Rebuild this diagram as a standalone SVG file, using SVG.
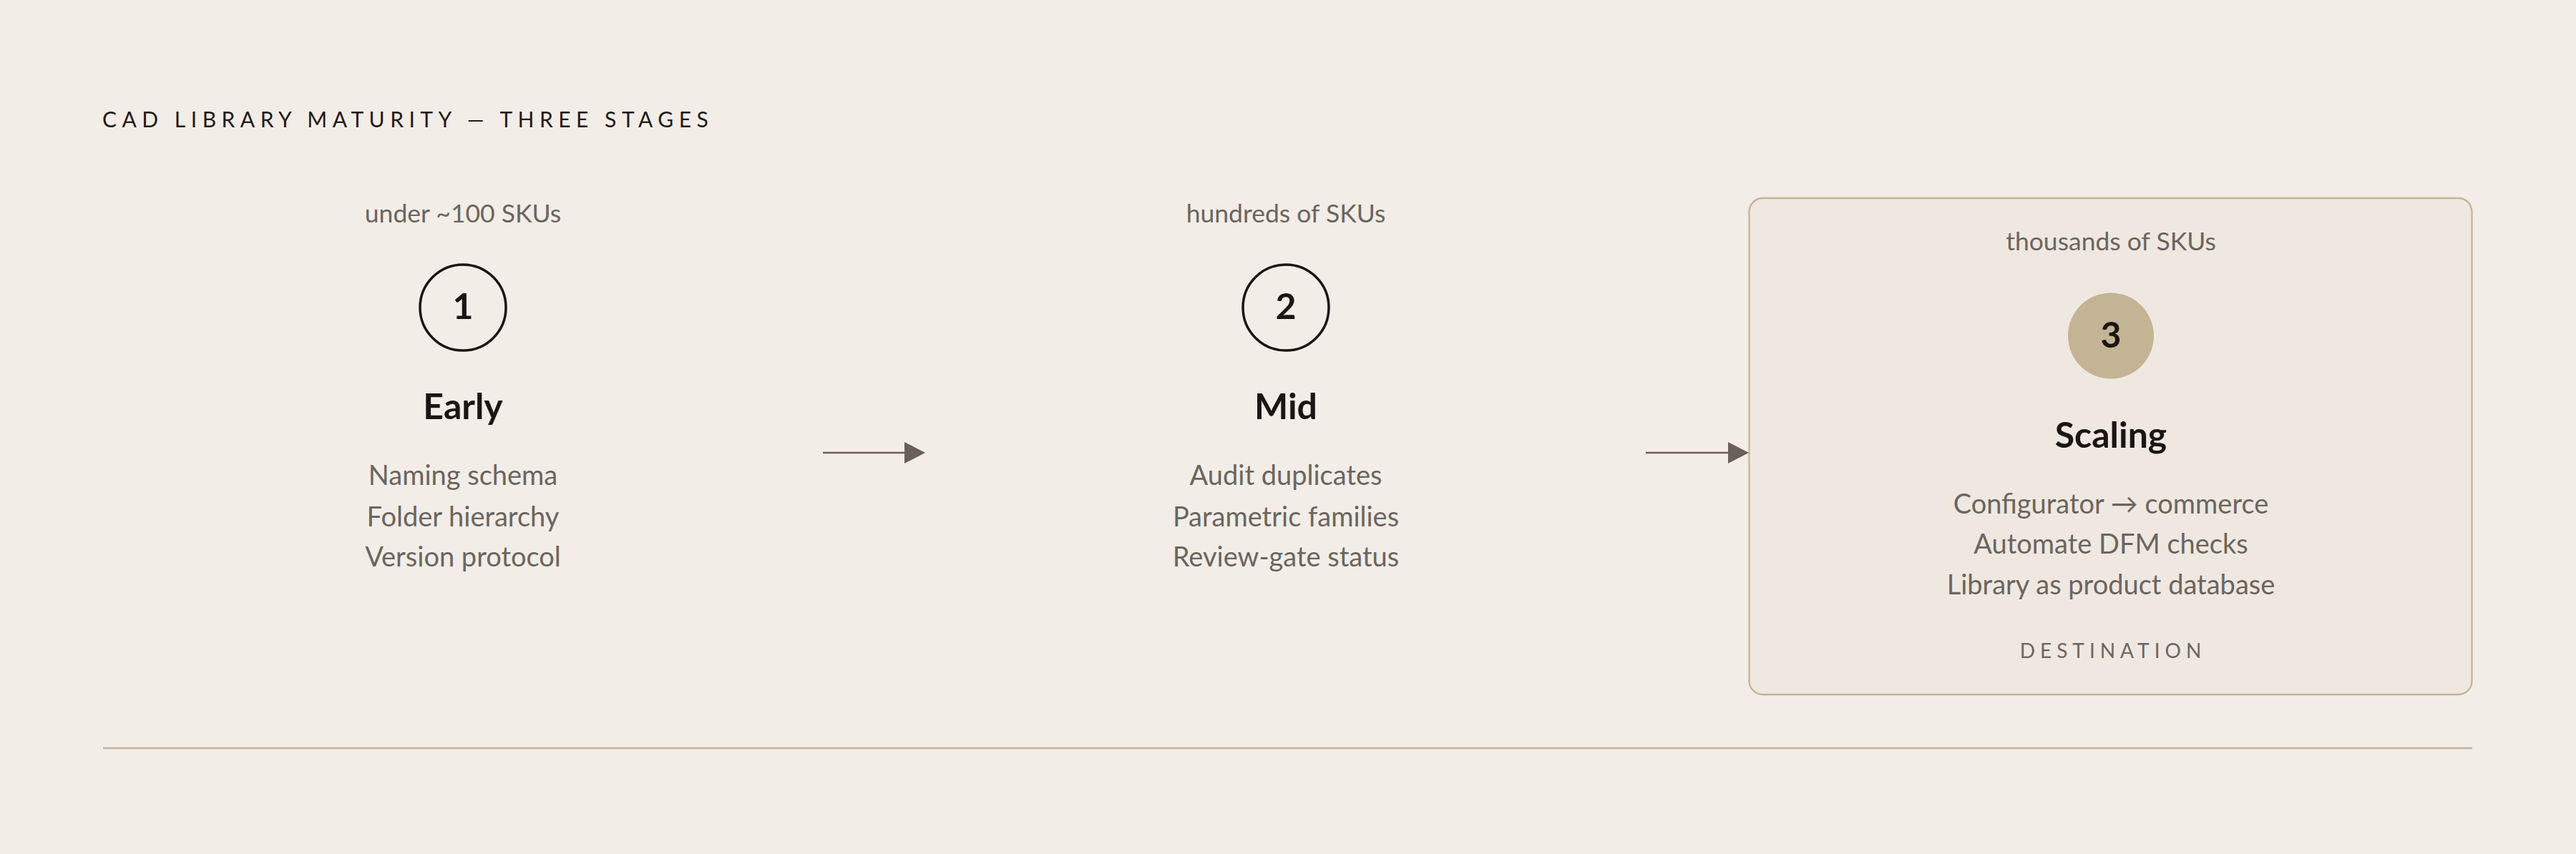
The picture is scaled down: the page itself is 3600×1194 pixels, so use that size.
<svg xmlns="http://www.w3.org/2000/svg" width="3600" height="1194" viewBox="0 0 3600 1194">
<defs>
<style>
text{font-family:Lato,"Noto Sans",sans-serif;text-anchor:middle}
.title{font-size:30px;letter-spacing:7.5px;fill:#1f1a17;text-anchor:start}
.sku{font-size:35.5px;fill:#6b655e}
.num{font-size:50px;font-weight:700;fill:#1a1614}
.name{font-size:50px;font-weight:700;fill:#1a1614}
.item{font-size:38px;fill:#6b655e}
.dest{font-size:28px;letter-spacing:7px;fill:#6b655e}
.ring{fill:none;stroke:#1a1614;stroke-width:3.5}
.conn{stroke:#67615a;stroke-width:2.3;fill:none}
</style>
<marker id="ah" markerUnits="userSpaceOnUse" markerWidth="30" markerHeight="30" refX="0" refY="15" orient="auto">
<path d="M0,0 L29,15 L0,30 Z" fill="#67615a"/>
</marker>
</defs>
<rect width="3600" height="1194" fill="#f2ede7"/>
<text id="title" class="title" x="143" y="178">CAD LIBRARY MATURITY — THREE STAGES</text>
<g id="stage1">
<text class="sku" x="647" y="311">under ~100 SKUs</text>
<circle class="ring" cx="647" cy="430" r="60"/>
<text class="num" x="647" y="446">1</text>
<text class="name" x="647" y="586">Early</text>
<text class="item" x="647" y="678">Naming schema</text>
<text class="item" x="647" y="736">Folder hierarchy</text>
<text class="item" x="647" y="792">Version protocol</text>
</g>
<g id="stage2">
<text class="sku" x="1797" y="311">hundreds of SKUs</text>
<circle class="ring" cx="1797" cy="430" r="60"/>
<text class="num" x="1797" y="446">2</text>
<text class="name" x="1797" y="586">Mid</text>
<text class="item" x="1797" y="678">Audit duplicates</text>
<text class="item" x="1797" y="736">Parametric families</text>
<text class="item" x="1797" y="792">Review-gate status</text>
</g>
<g id="stage3">
<rect x="2444.5" y="277" width="1010" height="694" rx="19" fill="#efe8e1" stroke="#c4b496" stroke-width="2.3"/>
<text class="sku" x="2950" y="350">thousands of SKUs</text>
<circle cx="2950" cy="469.5" r="60" fill="#c4b496"/>
<text class="num" x="2950" y="486">3</text>
<text class="name" x="2950" y="626">Scaling</text>
<text class="item" x="2950" y="718">Configurator → commerce</text>
<text class="item" x="2950" y="774">Automate DFM checks</text>
<text class="item" x="2950" y="831">Library as product database</text>
<text class="dest" x="2953" y="920">DESTINATION</text>
</g>
<g id="connectors">
<line class="conn" x1="1150" y1="633" x2="1264" y2="633" marker-end="url(#ah)"/>
<line class="conn" x1="2300" y1="633" x2="2415" y2="633" marker-end="url(#ah)"/>
</g>
<line id="baseline" x1="144" y1="1046" x2="3455" y2="1046" stroke="#c4b496" stroke-width="2.3"/>
</svg>
